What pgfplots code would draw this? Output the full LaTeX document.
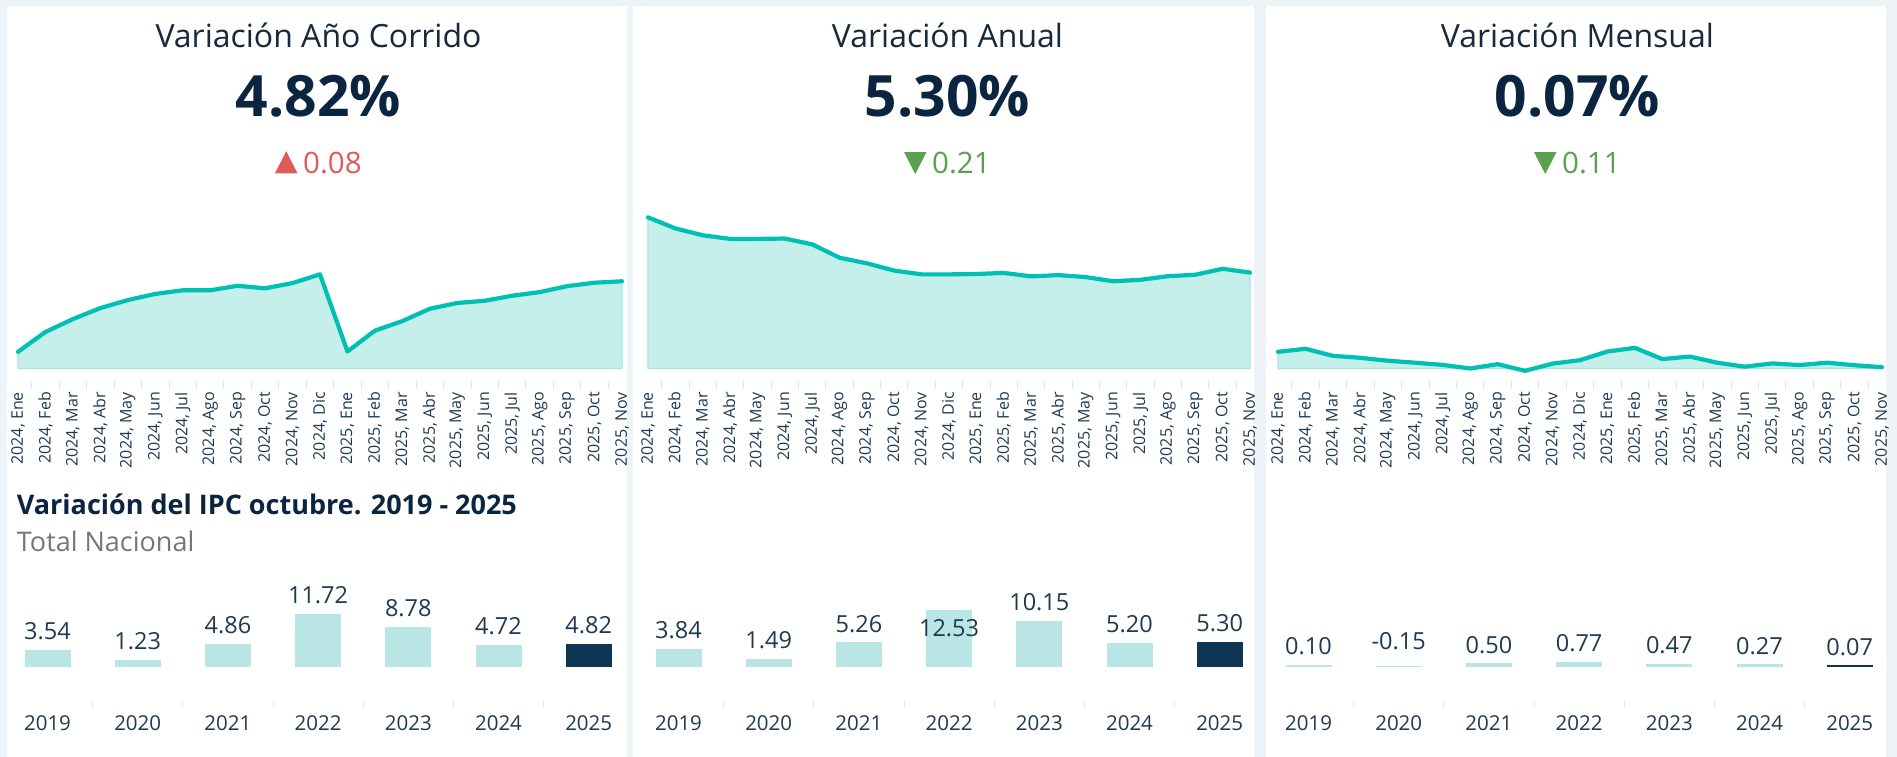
\documentclass[border=0pt]{standalone}
\usepackage{pgfplots}
\pgfplotsset{compat=1.18}
\usepackage{pgfplotstable}
\usepackage{fontspec}
\setmainfont{Open Sans}

\definecolor{bgc}{HTML}{EEF3F8}
\definecolor{linec}{HTML}{00BFB3}
\definecolor{tealfill}{HTML}{C4EFEB}
\definecolor{tealedge}{HTML}{A6E6E0}
\definecolor{barlight}{HTML}{B9E5E4}
\definecolor{navy}{HTML}{0E3553}
\definecolor{titlec}{HTML}{17293C}
\definecolor{bignum}{HTML}{0B2540}
\definecolor{upred}{HTML}{E05A5A}
\definecolor{downgreen}{HTML}{5AA14F}
\definecolor{subgray}{HTML}{767676}
\definecolor{tickc}{HTML}{E3E6E8}
\definecolor{labc}{HTML}{1E3A52}

\pgfplotstableread{
x acum anual mensual
0 0.92 8.35 0.92
1 2.02 7.74 1.09
2 2.73 7.36 0.70
3 3.34 7.16 0.59
4 3.78 7.16 0.43
5 4.12 7.18 0.32
6 4.32 6.86 0.20
7 4.32 6.12 0.00
8 4.57 5.81 0.24
9 4.43 5.41 -0.13
10 4.72 5.20 0.27
11 5.20 5.20 0.46
12 0.94 5.22 0.94
13 2.09 5.28 1.14
14 2.62 5.09 0.52
15 3.30 5.16 0.66
16 3.62 5.05 0.32
17 3.74 4.82 0.10
18 4.02 4.90 0.28
19 4.22 5.10 0.19
20 4.55 5.18 0.32
21 4.74 5.51 0.18
22 4.82 5.30 0.07
}\lineData

\pgfplotsset{
  linechart/.style={
    scale only axis, height=175.57pt,
    xmin=0, xmax=22, ymin=-0.7, ymax=9,
    axis line style={draw=none},
    ytick=\empty,
    xtick={0,...,22},
    xticklabels={{2024, Ene},{2024, Feb},{2024, Mar},{2024, Abr},{2024, May},{2024, Jun},{2024, Jul},{2024, Ago},{2024, Sep},{2024, Oct},{2024, Nov},{2024, Dic},{2025, Ene},{2025, Feb},{2025, Mar},{2025, Abr},{2025, May},{2025, Jun},{2025, Jul},{2025, Ago},{2025, Sep},{2025, Oct},{2025, Nov}},
    xtick pos=bottom,
    minor x tick num=1,
    major tick length=0pt,
    minor tick length=8pt,
    tick align=outside,
    minor tick style={draw=tickc, line width=1pt},
    xticklabel style={yshift=-10.8pt, rotate=90, anchor=east, inner sep=0pt, font=\fontsize{16}{16}\selectfont, text=labc},
    clip=false,
  },
  fillarea/.style={fill=tealfill, draw=tealedge, line width=1.2pt},
  thickline/.style={linec, line width=4.2pt, line join=round, line cap=round},
  barchart/.style={
    scale only axis, width=631.4pt, height=96.7pt,
    xmin=-0.5, xmax=6.5, ymin=-7.83, ymax=14,
    axis line style={draw=none},
    ytick=\empty,
    xtick={0,...,6},
    xticklabels={2019,2020,2021,2022,2023,2024,2025},
    xtick pos=bottom,
    minor x tick num=1,
    major tick length=0pt,
    minor tick length=7.3pt,
    tick align=outside,
    minor tick style={draw=tickc, line width=1pt},
    xticklabel style={yshift=-29.3pt, anchor=base, inner sep=0pt, font=\fontsize{20.5}{20.5}\selectfont, text=labc},
    clip=false,
  },
  lightbar/.style={ybar, bar width=45pt, bar shift=0pt, fill=barlight, draw=barlight, line width=0.8pt},
  navybar/.style={ybar, bar width=45pt, bar shift=0pt, fill=navy, draw=navy, line width=0.8pt},
  vlab/.style={draw=none, nodes near coords, point meta=explicit symbolic,
    every node near coord/.style={anchor=base, inner sep=0pt, yshift=10.7pt, font=\fontsize{23.5}{23.5}\selectfont, text=labc}},
}

\begin{document}
\begin{tikzpicture}
\useasboundingbox (0,0) rectangle (1897pt,-757pt);
\fill[bgc] (0,0) rectangle (1897pt,-757pt);
\fill[white] (6.5pt,-6pt) rectangle (627pt,-757pt);
\fill[white] (633pt,-6pt) rectangle (1254pt,-757pt);
\fill[white] (1266pt,-6pt) rectangle (1886pt,-757pt);

% ---- headline cards
\begin{scope}[every node/.style={inner sep=0pt, anchor=base}]
\node[text=titlec, font=\fontsize{32}{32}\selectfont] at (318.5pt,-47.7pt) {Variación Año Corrido};
\node[text=titlec, font=\fontsize{32}{32}\selectfont] at (947.5pt,-47.7pt) {Variación Anual};
\node[text=titlec, font=\fontsize{32}{32}\selectfont] at (1577.5pt,-47.7pt) {Variación Mensual};
\node[text=bignum, font=\fontsize{57}{57}\selectfont\bfseries] at (318.5pt,-116.7pt) {4.82\%};
\node[text=bignum, font=\fontsize{57}{57}\selectfont\bfseries] at (947.5pt,-116.7pt) {5.30\%};
\node[text=bignum, font=\fontsize{57}{57}\selectfont\bfseries] at (1577.5pt,-116.7pt) {0.07\%};
\node[anchor=base west, text=upred, font=\fontsize{29.5}{29.5}\selectfont] at (303pt,-173pt) {0.08};
\node[anchor=base west, text=downgreen, font=\fontsize{29.5}{29.5}\selectfont] at (932pt,-173pt) {0.21};
\node[anchor=base west, text=downgreen, font=\fontsize{29.5}{29.5}\selectfont] at (1562pt,-173pt) {0.11};
\end{scope}
\fill[upred] (275pt,-173.3pt) -- (297.5pt,-173.3pt) -- (286.25pt,-151.2pt) -- cycle;
\fill[downgreen] (904pt,-152pt) -- (926.5pt,-152pt) -- (915.25pt,-174pt) -- cycle;
\fill[downgreen] (1534pt,-152pt) -- (1556.5pt,-152pt) -- (1545.25pt,-174pt) -- cycle;

% ---- line charts
\begin{axis}[linechart, width=604pt, at={(18pt,-381.17pt)}, anchor=south west]
\addplot[fillarea] table[x=x, y=acum] {\lineData} \closedcycle;
\addplot[thickline] table[x=x, y=acum] {\lineData};
\end{axis}
\begin{axis}[linechart, width=602pt, at={(648pt,-381.17pt)}, anchor=south west]
\addplot[fillarea] table[x=x, y=anual] {\lineData} \closedcycle;
\addplot[thickline] table[x=x, y=anual] {\lineData};
\end{axis}
\begin{axis}[linechart, width=604pt, at={(1278pt,-381.17pt)}, anchor=south west]
\addplot[fillarea] table[x=x, y=mensual] {\lineData} \closedcycle;
\addplot[thickline] table[x=x, y=mensual] {\lineData};
\end{axis}

% ---- bar section titles
\node[anchor=base west, inner sep=0pt, text=bignum, font=\fontsize{27}{27}\selectfont\bfseries] at (16.7pt,-514pt) {Variación del IPC octubre. 2019 - 2025};
\node[anchor=base west, inner sep=0pt, text=subgray, font=\fontsize{27}{27}\selectfont] at (16.7pt,-551pt) {Total Nacional};

% ---- bar charts
\begin{axis}[barchart, at={(2.4pt,-700.7pt)}, anchor=south west]
\addplot[lightbar] coordinates {(0,3.54) (1,1.23) (2,4.86) (3,11.72) (4,8.78) (5,4.72)};
\addplot[navybar] coordinates {(6,4.82)};
\addplot[vlab] coordinates {(0,3.54)[3.54] (1,1.23)[1.23] (2,4.86)[4.86] (3,11.72)[11.72] (4,8.78)[8.78] (5,4.72)[4.72] (6,4.82)[4.82]};
\end{axis}
\begin{axis}[barchart, at={(633.4pt,-700.7pt)}, anchor=south west]
\addplot[lightbar] coordinates {(0,3.84) (1,1.49) (2,5.26) (3,12.53) (4,10.15) (5,5.20)};
\addplot[navybar] coordinates {(6,5.30)};
\addplot[vlab] coordinates {(0,3.84)[3.84] (1,1.49)[1.49] (2,5.26)[5.26] (4,10.15)[10.15] (5,5.20)[5.20] (6,5.30)[5.30]};
\addplot[vlab, every node near coord/.append style={yshift=-36.2pt}] coordinates {(3,12.53)[12.53]};
\end{axis}
\begin{axis}[barchart, at={(1263.4pt,-700.7pt)}, anchor=south west]
\addplot[lightbar] coordinates {(0,0.10) (1,-0.15) (2,0.50) (3,0.77) (4,0.47) (5,0.27)};
\addplot[navybar] coordinates {(6,0.07)};
\addplot[vlab] coordinates {(0,0.10)[0.10] (2,0.50)[0.50] (3,0.77)[0.77] (4,0.47)[0.47] (5,0.27)[0.27] (6,0.07)[0.07]};
\addplot[vlab, every node near coord/.append style={yshift=6pt}] coordinates {(1,-0.15)[-0.15]};
\end{axis}
\end{tikzpicture}
\end{document}
